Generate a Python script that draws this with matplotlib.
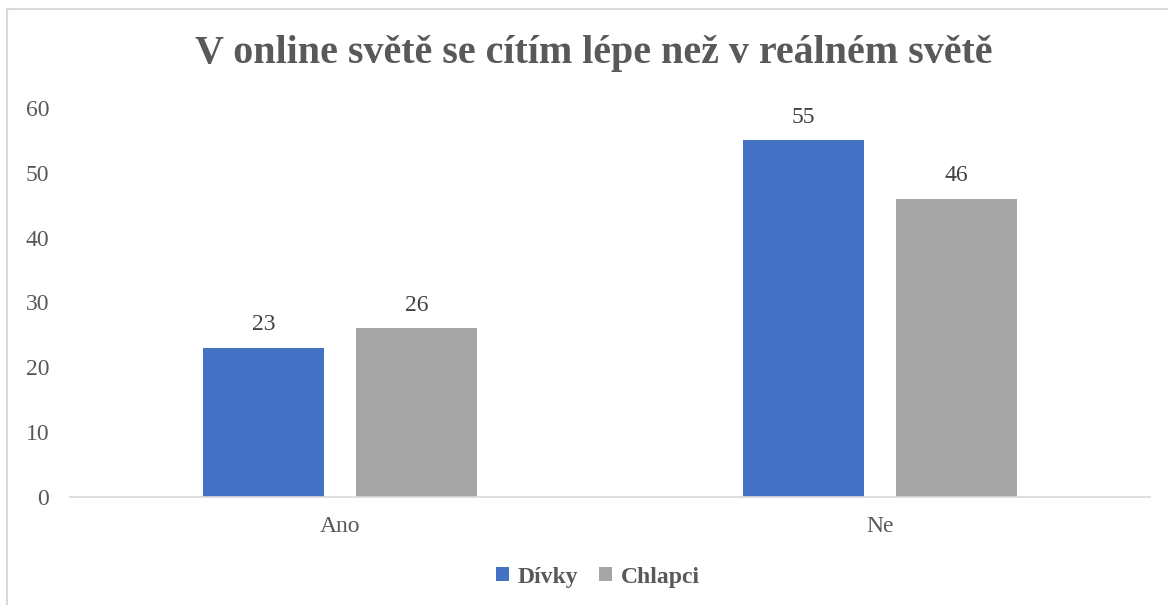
import matplotlib.pyplot as plt
import matplotlib.patches as mpatches
import numpy as np

categories = ["Ano", "Ne"]
series_names = ["Dívky", "Chlapci"]
divky = [23, 55]
chlapci = [26, 46]
colors = ["#4472C4", "#A5A5A5"]

plt.rcParams['font.family'] = ['Liberation Serif', 'DejaVu Serif']
text_color = "#595959"

fig = plt.figure(figsize=(11.68, 6.05), dpi=100)
ax = fig.add_axes([70 / 1168, 1 - 496.7 / 605, 1080 / 1168, (496.7 - 108) / 605])

x = np.arange(len(categories))
width = 0.224
offset = 0.142
bars1 = ax.bar(x - offset, divky, width, color=colors[0], label=series_names[0])
bars2 = ax.bar(x + offset, chlapci, width, color=colors[1], label=series_names[1])

for bars in (bars1, bars2):
    for b in bars:
        ax.annotate(f"{int(b.get_height())}", (b.get_x() + b.get_width() / 2, b.get_height()),
                    xytext=(0, 9), textcoords="offset points", ha="center", va="bottom",
                    fontsize=17, color="#404040")

ax.set_xlim(-0.5, 1.5)
ax.set_ylim(0, 60)
ax.set_yticks(range(0, 61, 10))
ax.set_xticks(x)
ax.set_xticklabels(categories)
ax.tick_params(axis="both", length=0, labelsize=17, colors=text_color)
ax.tick_params(axis="y", pad=15)
ax.tick_params(axis="x", pad=14)
for s in ("top", "right", "left"):
    ax.spines[s].set_visible(False)
ax.spines["bottom"].set_color("#D9D9D9")
ax.spines["bottom"].set_linewidth(1.2)

fig.text(594 / 1168, 1 - 53 / 605, "V online světě se cítím lépe než v reálném světě",
         ha="center", va="center", fontsize=28.8, fontweight="bold", color=text_color)

leg = fig.legend(loc="center", bbox_to_anchor=(598 / 1168, 1 - 577 / 605), ncol=2, frameon=False,
                 handlelength=0.55, handleheight=0.55, handletextpad=0.35, columnspacing=0.9,
                 prop={"size": 17, "weight": "bold"})
for t in leg.get_texts():
    t.set_color(text_color)

fig.patches.append(mpatches.Rectangle((7 / 1168, -0.05), 1.1, 1 - 9 / 605 + 0.05,
                                      transform=fig.transFigure, fill=False,
                                      edgecolor="#D9D9D9", linewidth=1.5))

fig.savefig("out.png", dpi=100, facecolor="white")
